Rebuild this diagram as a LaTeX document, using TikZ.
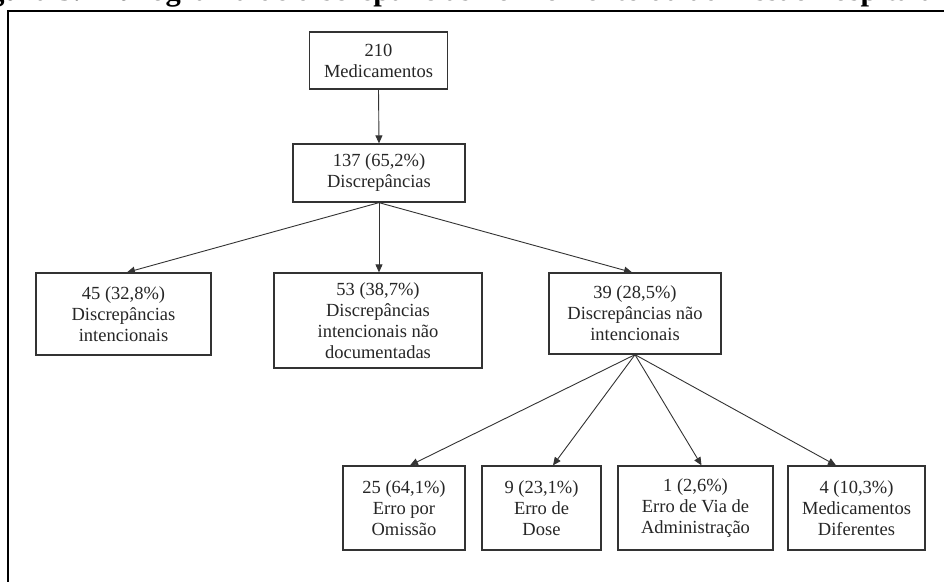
\documentclass[tikz,border=0pt]{standalone}
\usepackage{fontspec}
\setmainfont{Liberation Serif}
\usetikzlibrary{arrows.meta}
\begin{document}
\begin{tikzpicture}[x=1pt,y=-1pt,
  box/.style={draw=black!80, line width=1.3pt, fill=white, align=center,
    font=\fontsize{18.5}{21}\selectfont, inner sep=0pt, text=black!85},
  conn/.style={draw=black!80, line width=0.9pt, -{Triangle[length=8pt,width=7pt]}}]
\useasboundingbox (0,0) rectangle (944,581);
\clip (0,0) rectangle (944,581);
\fill[white] (0,0) rectangle (944,581);
\node[font=\bfseries\fontsize{30.5}{32}\selectfont, anchor=base west, inner sep=0pt] (title) at (-38,0.5)
  {Figura 3. Fluxograma de discrepâncias no momento da admissão hospitalar};
\coordinate (fbl) at (8,600);
\coordinate (ftl) at (8,11);
\coordinate (ftr) at (960,11);
\draw[line width=2pt] (fbl) -- (ftl) -- (ftr);

\node[box, minimum width=138pt, minimum height=57pt] (n210) at (378.5,60.5) {210\\Medicamentos};
\node[box, minimum width=172pt, minimum height=58pt] (n137) at (379,173) {137 (65,2\%)\\Discrepâncias};
\node[box, minimum width=175pt, minimum height=82pt] (n45) at (123.5,314) {45 (32,8\%)\\Discrepâncias\\intencionais};
\node[box, minimum width=208pt, minimum height=95pt] (n53) at (378,320.5) {53 (38,7\%)\\Discrepâncias\\intencionais não\\documentadas};
\node[box, minimum width=172pt, minimum height=81pt] (n39) at (635,313.5) {39 (28,5\%)\\Discrepâncias não\\intencionais};
\node[box, minimum width=122pt, minimum height=84pt] (n25) at (404,508) {25 (64,1\%)\\Erro por\\Omissão};
\node[box, minimum width=119pt, minimum height=84pt] (n9) at (541.5,508) {9 (23,1\%)\\Erro de\\Dose};
\node[box, minimum width=155pt, minimum height=84pt] (n1) at (695.5,508) {1 (2,6\%)\\Erro de Via de\\Administração};
\node[box, minimum width=137pt, minimum height=84pt] (n4) at (856.5,508) {4 (10,3\%)\\Medicamentos\\Diferentes};

\draw[conn] (n210.south) -- (n137.north);
\draw[conn] (n137.south) -- ([xshift=3.5pt]n45.north);
\draw[conn] (n137.south) -- ([xshift=1pt]n53.north);
\draw[conn] (n137.south) -- ([xshift=-3pt]n39.north);
\draw[conn] (n39.south) -- ([xshift=6pt]n25.north);
\draw[conn] (n39.south) -- ([xshift=11.5pt]n9.north);
\draw[conn] (n39.south) -- ([xshift=6pt]n1.north);
\draw[conn] (n39.south) -- ([xshift=-20.5pt]n4.north);
\end{tikzpicture}
\end{document}
